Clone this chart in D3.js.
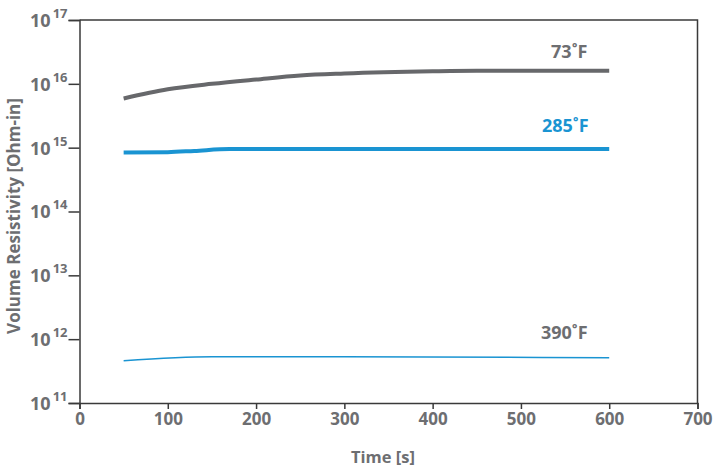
<!DOCTYPE html>
<html><head><meta charset="utf-8">
<script src="https://cdn.jsdelivr.net/npm/d3@7"></script>
<style>body{margin:0;background:#fff}svg{display:block}text{font-family:"Open Sans",sans-serif}</style>
</head><body><svg id="c" width="714" height="469"></svg>
<script>
const xTicks = [0,100,200,300,400,500,600,700];
const yTickExps = [11,12,13,14,15,16,17];
const seriesNames = ["73˚F","285˚F","390˚F"];
const time73 = [50,100,150,200,250,300,400,450,600];
const val73 = [5.9e15,8.2e15,1.0e16,1.17e16,1.35e16,1.45e16,1.57e16,1.6e16,1.6e16];
const time285 = [50,100,130,170,600];
const val285 = [8.4e14,8.5e14,8.9e14,9.5e14,9.5e14];
const time390 = [50,150,300,600];
const val390 = [4.6e11,5.3e11,5.3e11,5.1e11];

const svg = d3.select("#c");
const L=79.5, R=697.5, T=20, B=403;
const x = d3.scaleLinear().domain([0,700]).range([L,R]);
const y = d3.scaleLog().domain([1e11,1e17]).range([B,T]);
const axisColor="#3a3a3a", textColor="#6d6e71";

svg.append("path").attr("d",`M${L},${T}H${R}V${B}`).attr("fill","none").attr("stroke",axisColor).attr("stroke-width",1.5);

const xa = svg.append("g").attr("transform",`translate(0,${B})`)
  .call(d3.axisBottom(x).tickValues(xTicks).tickSize(6).tickPadding(4).tickFormat(d3.format("d")));
const ya = svg.append("g").attr("transform",`translate(${L},0)`)
  .call(d3.axisLeft(y).tickValues(yTickExps.map(e=>Math.pow(10,e))).tickSize(11).tickFormat(""));
[xa,ya].forEach(a=>{a.select(".domain").attr("stroke",axisColor).attr("stroke-width",1.5);
  a.selectAll(".tick line").attr("stroke",axisColor).attr("stroke-width",1.5);});
xa.selectAll(".tick text").attr("fill",textColor).attr("font-size",17).attr("font-weight",700)
  .attr("font-family","Open Sans");

ya.selectAll(".tick").each(function(d){
  const e = Math.round(Math.log10(d));
  const t = d3.select(this).append("text").attr("x",-12).attr("dy","0.36em").attr("text-anchor","end")
    .attr("fill",textColor).attr("font-weight",700).attr("font-size",18);
  t.append("tspan").text("10");
  t.append("tspan").attr("font-size",13).attr("dx",2).attr("dy",-9).text(e);
});

svg.append("text").attr("x",383).attr("y",463).attr("text-anchor","middle")
  .attr("fill",textColor).attr("font-weight",700).attr("font-size",16.5).text("Time [s]");
svg.append("text").attr("transform",`translate(20,216) rotate(-90)`).attr("text-anchor","middle")
  .attr("fill",textColor).attr("font-weight",700).attr("font-size",17).text("Volume Resistivity [Ohm-in]");

const line = d3.line().x(d=>x(d[0])).y(d=>y(d[1])).curve(d3.curveMonotoneX);
const series = [
  {name:seriesNames[0], t:time73, v:val73, color:"#67686b", w:4, label:textColor, dx:-40, dy:-13},
  {name:seriesNames[1], t:time285, v:val285, color:"#1a94d2", w:4, label:"#1a94d2", dx:-44, dy:-17},
  {name:seriesNames[2], t:time390, v:val390, color:"#1a94d2", w:1.5, label:textColor, dx:-45, dy:-19}
];
series.forEach(s=>{
  const pts = s.t.map((t,i)=>[t,s.v[i]]);
  svg.append("path").attr("d",line(pts)).attr("fill","none").attr("stroke",s.color).attr("stroke-width",s.w);
  const last = pts[pts.length-1];
  svg.append("text").attr("x",x(last[0])+s.dx).attr("y",y(last[1])+s.dy).attr("text-anchor","middle")
    .attr("fill",s.label).attr("font-weight",700).attr("font-size",18).text(s.name);
});
</script></body></html>
